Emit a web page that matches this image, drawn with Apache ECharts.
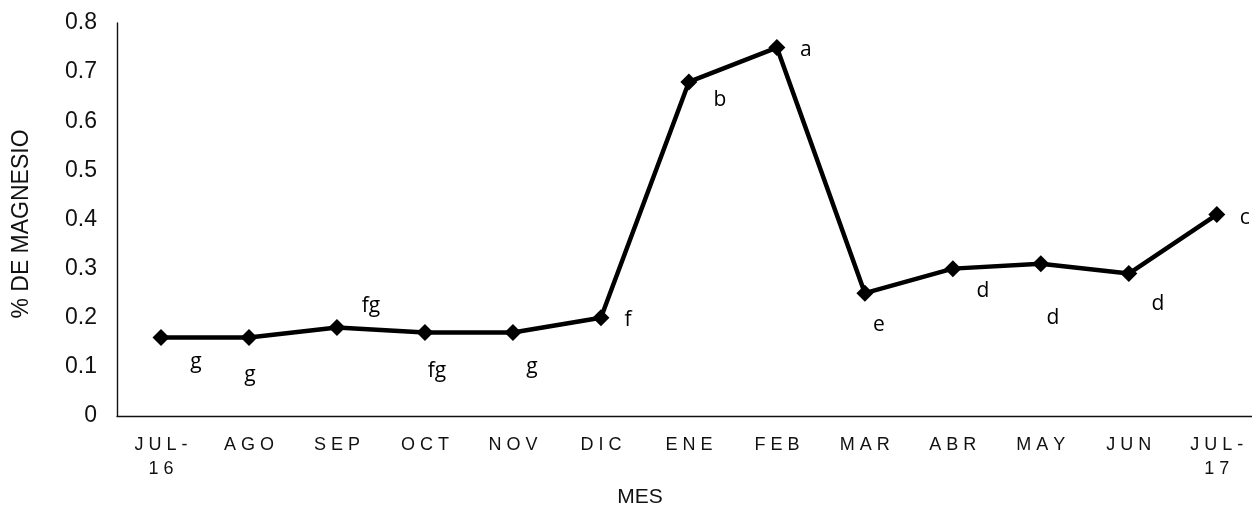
<!DOCTYPE html>
<html>
<head>
<meta charset="utf-8">
<script src="https://cdn.jsdelivr.net/npm/echarts@6/dist/echarts.min.js"></script>
<style>html,body{margin:0;padding:0;background:#fff}#c{width:1252px;height:510px}</style>
</head>
<body>
<div id="c"></div>
<script>
var categories = ['JUL-\n16','AGO','SEP','OCT','NOV','DIC','ENE','FEB','MAR','ABR','MAY','JUN','JUL-\n17'];
var values = [0.16,0.16,0.18,0.17,0.17,0.20,0.68,0.75,0.25,0.30,0.31,0.29,0.41];
var letters = ['g','g','fg','fg','g','f','b','a','e','d','d','d','c'];
var yTicks = [0,0.1,0.2,0.3,0.4,0.5,0.6,0.7,0.8];
// label placement (pixel offsets from each marker), layout only
var labelOffsets = [[35,25],[1,38],[34,-22],[12,39],[19,35],[27,2],[31,18],[29,2],[14,32],[30,22],[12,54],[29,30],[28,3]];

var chart = echarts.init(document.getElementById('c'), null, {renderer:'canvas'});
var idx = categories.map(function(c,i){return i;});
var data = values.map(function(v,i){
  return {value:[i, v], label:{show:true, formatter:letters[i], position:'inside', offset:labelOffsets[i]}};
});
function spaced(s){
  return s.split('\n').map(function(l){return l.split('').join(' ');}).join('\n');
}
chart.setOption({
  animation:false,
  backgroundColor:'#fff',
  grid:{left:117, right:0, top:23, bottom:94, containLabel:false},
  xAxis:{
    type:'value', min:-0.5, max:12.4,
    axisLine:{show:true, onZero:false, lineStyle:{color:'#111', width:1.4}},
    axisTick:{show:false},
    splitLine:{show:false},
    axisLabel:{color:'#111', fontFamily:'Liberation Sans, Arial', fontSize:18, margin:17, lineHeight:24,
      customValues: idx, showMinLabel:true, showMaxLabel:true,
      formatter:function(v){ var i = Math.round(v); return categories[i] ? spaced(categories[i]) : ''; }}
  },
  yAxis:{
    type:'value', min:0, max:0.8, interval:0.1,
    name:'% DE MAGNESIO', nameLocation:'middle', nameGap:84, nameRotate:90,
    nameTextStyle:{color:'#111', fontFamily:'Liberation Sans, Arial', fontSize:23, padding:[0,9,0,0]},
    axisLine:{show:true, onZero:false, lineStyle:{color:'#111', width:1.4}},
    axisTick:{show:false},
    splitLine:{show:false},
    axisLabel:{color:'#111', fontFamily:'Liberation Sans, Arial', fontSize:23, margin:20,
      formatter:function(v){ var t = yTicks.find(function(x){return Math.abs(x-v)<1e-9;}); return t===undefined? '' : String(t);} }
  },
  graphic:[{type:'text', x:640, y:497, style:{text:'MES', fill:'#111', font:'21px "Liberation Sans", Arial', textAlign:'center', textVerticalAlign:'middle'}}],
  series:[{
    type:'line', data:data,
    symbol:'path://M0,-1L1,0L0,1L-1,0Z', symbolSize:17,
    lineStyle:{color:'#000', width:4.5},
    itemStyle:{color:'#000'},
    label:{color:'#000', fontFamily:'Open Sans', fontSize:21}
  }]
});
</script>
</body>
</html>
